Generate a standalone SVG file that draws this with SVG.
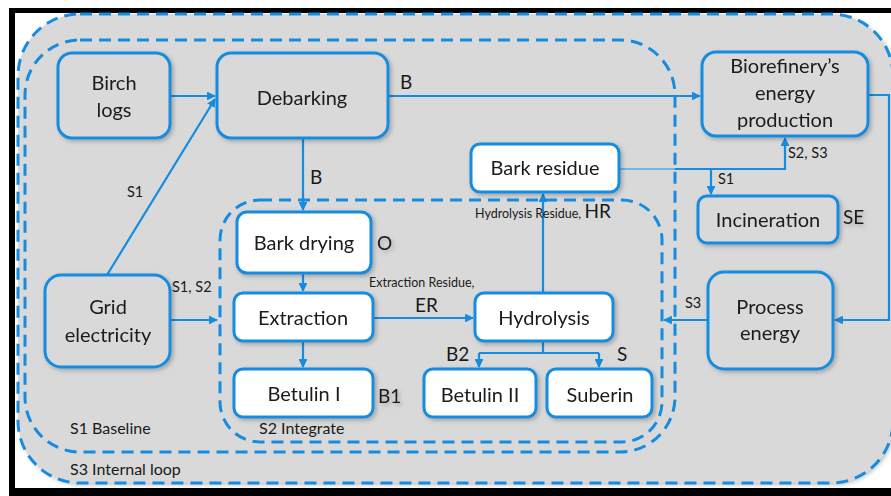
<svg xmlns="http://www.w3.org/2000/svg" width="891" height="496" viewBox="0 0 891 496">
<defs>
<style>
.loop{fill:none;stroke:#168ce0;stroke-width:3;stroke-dasharray:12 7}
.ng{fill:#d9d9d9;stroke:#168ce0;stroke-width:3}
.nw{fill:#ffffff;stroke:#168ce0;stroke-width:3}
.c{fill:none;stroke:#168ce0;stroke-width:2.2}
.t{font-family:Lato,"Liberation Sans",sans-serif;font-size:20px;fill:#1a1a1a;text-anchor:middle}
.l{font-family:Lato,"Liberation Sans",sans-serif;font-size:19px;fill:#1a1a1a}
.s{font-family:Lato,"Liberation Sans",sans-serif;font-size:14.5px;fill:#1a1a1a}
.g{font-family:Lato,"Liberation Sans",sans-serif;font-size:16px;fill:#1a1a1a}
.xs{font-family:Lato,"Liberation Sans",sans-serif;font-size:12.5px;fill:#1a1a1a}
</style>
<marker id="ah" viewBox="0 0 10 10" refX="9" refY="5" markerWidth="4" markerHeight="4" orient="auto" markerUnits="strokeWidth">
<path d="M0,0 L10,5 L0,10 z" fill="#168ce0"/>
</marker>
<filter id="sh" x="-10%" y="-10%" width="130%" height="130%">
<feDropShadow dx="2" dy="2" stdDeviation="2" flood-color="#000" flood-opacity="0.25"/>
</filter>
</defs>
<rect x="0" y="0" width="891" height="496" fill="#ffffff"/>
<rect x="9" y="8" width="900" height="500" fill="#000000"/>
<rect x="15" y="13" width="900" height="475" fill="#ffffff"/>
<g id="loops">
<rect x="18" y="14" width="875" height="469" rx="62" fill="#d9d9d9" stroke="none" filter="url(#sh)"/>
<rect class="loop" x="18" y="14" width="875" height="469" rx="62"/>
<rect class="loop" x="25" y="40" width="650" height="412" rx="55"/>
<rect class="loop" x="220" y="200" width="442" height="242" rx="40"/>
<text class="g" x="70" y="434">S1 Baseline</text>
<text class="g" x="259" y="434">S2 Integrate</text>
<text class="g" x="70" y="475">S3 Internal loop</text>
</g>
<g id="connectors">
<path class="c" d="M170,96 H215" marker-end="url(#ah)"/>
<path class="c" d="M107,275 L215,99" marker-end="url(#ah)"/>
<path class="c" d="M388,96 H700" marker-end="url(#ah)"/>
<path class="c" d="M303,138 V210" marker-end="url(#ah)"/>
<path class="c" d="M170,320 H217" marker-end="url(#ah)"/>
<path class="c" d="M303,273 V291" marker-end="url(#ah)"/>
<path class="c" d="M373,318 H473" marker-end="url(#ah)"/>
<path class="c" d="M303,341 V367" marker-end="url(#ah)"/>
<path class="c" d="M543,293 V194" marker-end="url(#ah)"/>
<path class="c" d="M543,341 V353 M479,353 H599"/>
<path class="c" d="M479,353 V367" marker-end="url(#ah)"/>
<path class="c" d="M599,353 V367" marker-end="url(#ah)"/>
<path d="M619,169 H676" fill="none" stroke="#4aa8ee" stroke-width="1.4"/>
<path class="c" d="M675,169 H785 V138" marker-end="url(#ah)"/>
<path class="c" d="M711,169 V194" marker-end="url(#ah)"/>
<path class="c" d="M868,95 H889 V320 H835" marker-end="url(#ah)"/>
<path class="c" d="M708,320 H664" marker-end="url(#ah)"/>
<text class="l" x="400" y="89">B</text>
<text class="l" x="310" y="184">B</text>
<text class="s" x="127" y="197">S1</text>
<text class="s" x="172" y="292">S1, S2</text>
<text class="xs" x="369" y="287">Extraction Residue,</text>
<text class="l" x="415" y="312">ER</text>
<text class="xs" x="475" y="218">Hydrolysis Residue, <tspan font-size="19">HR</tspan></text>
<text class="s" x="788" y="158">S2, S3</text>
<text class="s" x="718" y="184">S1</text>
<text class="l" x="446" y="361">B2</text>
<text class="l" x="617" y="361">S</text>
<text class="s" x="685" y="308">S3</text>
</g>
<g id="birch-logs" filter="url(#sh)">
<rect class="ng" x="58" y="53" width="112" height="85" rx="14"/>
<text class="t" x="114" y="90">Birch</text>
<text class="t" x="114" y="117">logs</text>
</g>
<g id="debarking" filter="url(#sh)">
<rect class="ng" x="217" y="53" width="171" height="85" rx="14"/>
<text class="t" x="302" y="105">Debarking</text>
</g>
<g id="biorefinery" filter="url(#sh)">
<rect class="ng" x="702" y="52" width="166" height="84" rx="14"/>
<text class="t" x="785" y="73">Biorefinery’s</text>
<text class="t" x="785" y="100">energy</text>
<text class="t" x="785" y="127">production</text>
</g>
<g id="bark-residue" filter="url(#sh)">
<rect class="nw" x="471" y="144" width="148" height="48" rx="9"/>
<text class="t" x="545" y="175">Bark residue</text>
</g>
<g id="incineration" filter="url(#sh)">
<rect class="ng" x="698" y="196" width="140" height="47" rx="9"/>
<text class="t" x="768" y="227">Incineration</text>
<text class="l" x="843" y="224">SE</text>
</g>
<g id="bark-drying" filter="url(#sh)">
<rect class="nw" x="237" y="212" width="134" height="61" rx="10"/>
<text class="t" x="304" y="250">Bark drying</text>
<text class="l" x="377" y="250">O</text>
</g>
<g id="grid-electricity" filter="url(#sh)">
<rect class="ng" x="45" y="275" width="125" height="92" rx="16"/>
<text class="t" x="108" y="314">Grid</text>
<text class="t" x="108" y="342">electricity</text>
</g>
<g id="extraction" filter="url(#sh)">
<rect class="nw" x="234" y="293" width="139" height="48" rx="9"/>
<text class="t" x="303" y="325">Extraction</text>
</g>
<g id="hydrolysis" filter="url(#sh)">
<rect class="nw" x="475" y="293" width="138" height="48" rx="9"/>
<text class="t" x="544" y="325">Hydrolysis</text>
</g>
<g id="betulin-1" filter="url(#sh)">
<rect class="nw" x="234" y="369" width="139" height="48" rx="9"/>
<text class="t" x="304" y="401">Betulin I</text>
<text class="l" x="378" y="403">B1</text>
</g>
<g id="betulin-2" filter="url(#sh)">
<rect class="nw" x="424" y="369" width="112" height="48" rx="9"/>
<text class="t" x="480" y="402">Betulin II</text>
</g>
<g id="suberin" filter="url(#sh)">
<rect class="nw" x="547" y="369" width="105" height="48" rx="9"/>
<text class="t" x="600" y="402">Suberin</text>
</g>
<g id="process-energy" filter="url(#sh)">
<rect class="ng" x="708" y="272" width="125" height="97" rx="16"/>
<text class="t" x="770" y="314">Process</text>
<text class="t" x="770" y="340">energy</text>
</g>
</svg>
